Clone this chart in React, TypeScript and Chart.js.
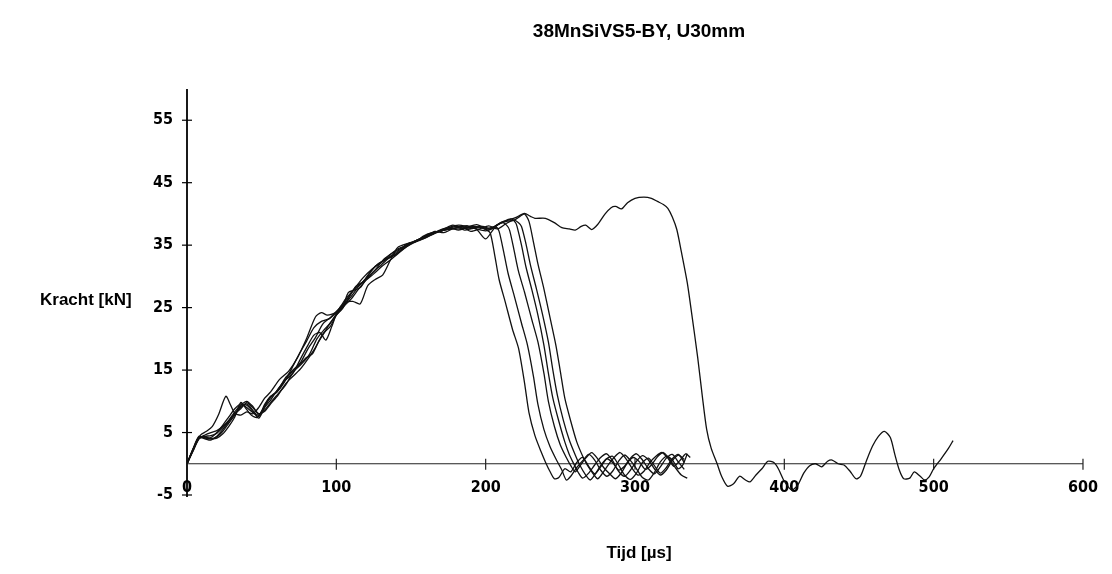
import React, { useEffect, useRef } from "react";
import { Chart, registerables } from "chart.js";

Chart.register(...registerables);

const TITLE = "38MnSiVS5-BY, U30mm";
const Y_TITLE = "Kracht [kN]";
const X_TITLE = "Tijd [µs]";

const X_TICKS = [0, 100, 200, 300, 400, 500, 600];
const Y_TICKS = [-5, 5, 15, 25, 35, 45, 55];

// Curve 1 (earliest fracture)
const C1_T = [0, 4, 9, 13, 17, 21, 26, 29, 32, 36, 40, 44, 48, 52, 56, 62, 68, 74, 80, 86, 90, 94, 100, 106, 112, 118, 124, 130, 136, 142, 148, 154, 160, 166, 172, 178, 184, 190, 196, 200,
  203, 206, 209, 213, 218, 222, 226, 229, 233, 237, 240, 243, 246, 249, 253, 257, 261, 265, 269, 273, 277, 281, 285, 289, 293, 297, 301, 305, 309, 313, 317, 321, 325, 329, 333];
const C1_F = [0, 2.3, 4.6, 5.2, 6.0, 7.8, 10.8, 9.5, 8.1, 7.8, 8.3, 8.0, 9.0, 10.5, 11.5, 13.5, 14.8, 17.0, 20.0, 23.5, 24.2, 23.8, 24.3, 26.3, 28.0, 29.8, 31.2, 32.2, 33.5, 34.5, 35.0, 35.8, 36.4, 37.0, 37.6, 38.2, 37.8, 37.6, 37.9, 37.5,
  37.0, 33.5, 29.5, 26.0, 21.5, 18.5, 13.0, 8.2, 4.5, 2.0, 0.3, -1.2, -2.4, -2.2, -0.8, -1.3, 0.2, 1.0, -0.4, -1.6, -0.5, 0.8, 1.2, -0.2, -1.8, -2.5, -1.5, 0.2, 0.9, -0.3, -1.5, -0.6, 0.8, 1.5, 0.2];

// Curve 2
const C2_T = [0, 4, 8, 12, 16, 20, 24, 28, 32, 36, 39, 43, 47, 51, 55, 60, 65, 70, 76, 82, 87, 92, 96, 100, 105, 110, 115, 120, 126, 132, 138, 144, 150, 156, 162, 168, 174, 180, 186, 192, 198, 203, 207,
  209, 212, 215, 219, 224, 228, 232, 235, 239, 243, 247, 251, 254, 257, 261, 265, 269, 273, 277, 281, 285, 289, 293, 297, 301, 305, 309, 313, 317, 321, 325, 329, 332, 335];
const C2_F = [0, 2.0, 4.0, 4.3, 4.0, 4.1, 4.8, 6.0, 7.5, 9.8, 9.0, 7.8, 7.4, 8.8, 10.5, 11.6, 13.2, 14.6, 15.8, 17.5, 20.0, 21.5, 22.5, 24.0, 25.6, 27.3, 28.6, 29.5, 31.0, 32.8, 33.8, 34.6, 35.4, 36.0, 36.8, 37.2, 37.5, 38.0, 37.4, 37.8, 38.0, 37.6, 37.9,
  37.2, 34.0, 30.5, 27.0, 22.5, 19.0, 14.0, 9.5, 5.5, 2.8, 0.8, -1.0, -2.6, -2.0, -0.6, 0.5, 1.5, 0.6, -1.0, -2.0, -1.2, 0.4, 1.4, 0.5, -0.8, -2.2, -2.6, -1.4, 0.3, 1.2, 0.6, -0.8, -0.2, 1.6];

// Curve 3
const C3_T = [0, 4, 8, 12, 16, 20, 24, 28, 32, 36, 40, 44, 48, 52, 56, 61, 66, 71, 76, 81, 85, 89, 93, 97, 101, 106, 111, 116, 121, 126, 131, 136, 141, 147, 153, 158, 164, 170, 176, 182, 188, 194, 200, 206, 211, 214,
  216, 219, 222, 226, 231, 235, 239, 242, 246, 250, 254, 257, 260, 263, 267, 271, 275, 279, 283, 287, 291, 295, 299, 303, 307, 311, 315, 319, 323, 327, 331, 335];
const C3_F = [0, 2.2, 4.2, 4.0, 3.8, 4.4, 5.5, 6.8, 8.0, 9.0, 9.6, 8.6, 7.3, 9.0, 10.2, 12.0, 13.4, 14.5, 16.8, 19.0, 20.6, 21.0, 19.8, 22.0, 24.5, 25.8, 26.0, 25.6, 28.5, 29.5, 30.2, 32.5, 34.6, 35.2, 35.5, 36.4, 37.0, 37.2, 37.9, 38.2, 37.9, 37.5, 36.0, 37.8, 38.6, 38.2,
  37.4, 34.2, 30.8, 27.5, 23.0, 19.5, 14.5, 10.0, 6.0, 3.0, 1.0, -0.3, -1.3, -0.4, 0.9, 1.8, 0.8, -0.6, -1.6, -2.4, -1.4, 0.2, 1.0, 0.3, -0.9, -0.2, 1.1, 1.8, 0.8, -0.6, -1.8, -2.3];

// Curve 4
const C4_T = [0, 4, 8, 12, 16, 20, 24, 28, 32, 36, 40, 44, 48, 52, 56, 61, 66, 71, 76, 80, 84, 88, 92, 96, 100, 104, 108, 113, 118, 123, 128, 134, 140, 146, 152, 158, 164, 170, 176, 182, 188, 194, 200, 206, 212, 217, 220,
  221, 224, 227, 231, 235, 239, 242, 245, 249, 253, 256, 259, 262, 265, 269, 273, 277, 281, 285, 289, 293, 297, 301, 305, 309, 313, 317, 321, 325, 329, 333];
const C4_F = [0, 2.1, 4.0, 4.6, 5.0, 5.3, 6.0, 7.0, 8.3, 9.4, 10.0, 9.2, 8.0, 8.6, 9.8, 11.2, 12.6, 14.6, 16.0, 17.0, 17.6, 19.5, 21.0, 22.6, 23.8, 24.8, 26.4, 28.4, 29.2, 30.8, 32.0, 32.8, 33.5, 34.8, 35.6, 36.0, 36.7, 37.5, 37.8, 37.4, 37.9, 38.3, 37.7, 38.0, 38.8, 39.2, 38.6,
  38.0, 35.0, 31.5, 27.8, 23.8, 19.0, 14.5, 10.5, 6.8, 3.5, 1.5, 0.0, -1.4, -2.3, -1.5, -0.2, 1.0, 1.6, 0.5, -1.2, -2.0, -1.0, 0.4, 1.3, 0.6, -0.8, -1.8, -1.0, 0.5, 1.4, 0.7];

// Curve 5
const C5_T = [0, 4, 8, 12, 16, 20, 24, 28, 32, 36, 40, 44, 48, 52, 56, 60, 65, 70, 75, 80, 85, 90, 95, 100, 104, 108, 112, 116, 121, 126, 131, 136, 142, 148, 154, 160, 166, 172, 178, 184, 190, 196, 202, 208, 214, 219, 222,
  224, 227, 230, 234, 238, 242, 245, 248, 252, 256, 260, 263, 267, 270, 273, 277, 281, 285, 289, 293, 297, 301, 305, 309, 313, 317, 321, 325, 329, 333];
const C5_F = [0, 2.4, 4.4, 4.1, 4.2, 5.0, 6.2, 7.5, 8.8, 9.6, 9.0, 8.2, 7.6, 9.5, 10.8, 11.4, 13.0, 15.2, 17.5, 19.6, 21.8, 22.8, 23.2, 24.2, 25.0, 27.4, 27.8, 28.2, 30.0, 31.6, 32.4, 33.2, 34.2, 35.3, 35.6, 36.2, 36.9, 37.4, 37.6, 38.0, 37.2, 37.6, 38.1, 37.6, 38.5, 39.0, 38.6,
  38.0, 35.2, 31.8, 28.0, 24.0, 19.5, 15.0, 11.0, 7.0, 3.8, 1.4, -0.2, -1.8, -2.6, -1.8, -0.3, 0.8, 0.2, -1.0, -0.4, 0.9, 1.6, 0.6, -0.8, -1.6, -0.5, 0.9, 1.5, 0.3, -0.9];

// Curve 6
const C6_T = [0, 4, 8, 12, 16, 20, 24, 28, 32, 36, 40, 44, 48, 52, 56, 61, 66, 71, 76, 81, 86, 91, 96, 100, 105, 110, 115, 120, 125, 130, 136, 142, 148, 154, 160, 166, 172, 178, 184, 190, 196, 202, 208, 214, 219, 223, 226,
  229, 232, 235, 239, 243, 247, 250, 253, 257, 261, 265, 268, 272, 275, 278, 282, 286, 290, 294, 298, 302, 306, 310, 314, 318, 322, 326, 330, 334, 337];
const C6_F = [0, 2.2, 4.1, 4.4, 4.5, 4.9, 5.8, 6.8, 8.0, 8.8, 9.8, 9.0, 8.0, 8.4, 9.6, 11.0, 12.8, 14.0, 15.2, 16.8, 18.6, 20.8, 22.0, 23.8, 25.2, 26.4, 28.0, 29.4, 30.4, 31.5, 32.6, 33.8, 34.9, 35.8, 36.4, 37.2, 37.0, 37.6, 37.6, 38.0, 37.9, 37.4, 38.3, 38.8, 39.0, 39.6, 40.0,
  38.8, 35.5, 32.0, 28.0, 23.5, 19.0, 14.8, 10.5, 6.8, 3.5, 1.2, -0.2, -1.6, -2.4, -1.6, -0.2, 1.0, 1.8, 0.8, -0.7, -1.8, -1.2, 0.2, 1.2, 1.8, 0.9, -0.4, 0.5, 1.6, 1.0];

// Curve 7 (latest fracture)
const C7_T = [0, 4, 8, 12, 16, 20, 24, 28, 32, 36, 40, 44, 48, 52, 56, 61, 66, 71, 76, 81, 86, 91, 96, 100, 105, 110, 115, 120, 125, 130, 135, 140, 146, 152, 158, 164, 170, 176, 182, 188, 194, 200, 205, 210, 215, 220, 226,
  230, 233, 240, 246, 251, 256, 260, 264, 267, 271, 275, 280, 284, 287, 291, 295, 300, 306, 311, 315, 319, 322, 325, 328, 331, 335, 338, 342, 345, 348, 351, 355, 358, 362,
  366, 370, 374, 377, 381, 385, 389, 393, 396, 400, 405, 409, 413, 417, 421, 425, 429, 432, 436, 440, 444, 448, 451, 455, 459, 463, 467, 471, 474, 477, 480, 484, 487, 491, 494, 497, 500, 505, 510, 513];
const C7_F = [0, 2.3, 4.3, 4.2, 4.0, 4.3, 5.2, 6.5, 7.8, 9.2, 9.4, 8.4, 7.8, 9.2, 10.6, 11.8, 13.8, 15.0, 16.2, 18.4, 20.2, 22.4, 23.4, 24.4, 25.4, 26.8, 28.4, 29.6, 30.8, 31.8, 32.9, 33.6, 34.6, 35.4, 36.2, 36.8, 37.3, 37.6, 37.9, 38.1, 37.6, 37.3, 37.8, 38.6, 39.0, 39.4, 40.1,
  39.6, 39.3, 39.3, 38.6, 37.8, 37.6, 37.4, 38.0, 38.2, 37.5, 38.3, 40.0, 41.0, 41.2, 40.8, 41.8, 42.5, 42.7, 42.5, 42.0, 41.5, 40.9, 39.5, 37.5, 34.0, 29.0, 24.0, 17.0, 11.0, 5.5, 2.5, 0.0, -2.0, -3.6,
  -3.2, -2.0, -2.6, -2.9, -1.8, -0.8, 0.4, 0.2, -0.8, -2.8, -4.2, -3.4, -1.5, -0.3, 0.0, -0.5, 0.4, 0.6, 0.0, -0.2, -1.2, -2.4, -2.0, 0.5, 2.8, 4.4, 5.2, 4.2, 1.5, -1.0, -2.4, -2.3, -1.3, -2.0, -2.6, -2.1, -0.8, 0.8, 2.5, 3.7];

const CURVES = [
  [C1_T, C1_F],
  [C2_T, C2_F],
  [C3_T, C3_F],
  [C4_T, C4_F],
  [C5_T, C5_F],
  [C6_T, C6_F],
  [C7_T, C7_F],
];

const TICK_FONT = { family: '"Liberation Sans Narrow", "DejaVu Sans Condensed", "Liberation Sans", sans-serif', size: 16, weight: "bold" as const };

const axesPlugin = {
  id: "customAxes",
  beforeDatasetsDraw(chart: any) {
    const { ctx, chartArea, scales } = chart;
    const xs = scales.x;
    const ys = scales.y;
    const x0 = xs.getPixelForValue(0);
    const y0 = ys.getPixelForValue(0);
    ctx.save();
    ctx.strokeStyle = "#000";
    // y axis
    ctx.lineWidth = 1.8;
    ctx.beginPath();
    ctx.moveTo(x0, chartArea.top);
    ctx.lineTo(x0, chartArea.bottom + 2);
    ctx.stroke();
    ctx.lineWidth = 1.2;
    Y_TICKS.forEach((v) => {
      const py = ys.getPixelForValue(v);
      ctx.beginPath();
      ctx.moveTo(x0 - 5, py);
      ctx.lineTo(x0 + 5, py);
      ctx.stroke();
    });
    // x axis at y = 0
    ctx.lineWidth = 1.2;
    ctx.strokeStyle = "#222";
    ctx.beginPath();
    ctx.moveTo(x0, y0);
    ctx.lineTo(xs.getPixelForValue(600), y0);
    ctx.stroke();
    X_TICKS.forEach((v) => {
      if (v === 0) return;
      const px = xs.getPixelForValue(v);
      ctx.beginPath();
      ctx.moveTo(px, y0 - 5);
      ctx.lineTo(px, y0 + 6);
      ctx.stroke();
    });
    ctx.restore();
  },
  afterDraw(chart: any) {
    const { ctx, chartArea } = chart;
    ctx.save();
    ctx.fillStyle = "#000";
    ctx.textBaseline = "middle";
    ctx.textAlign = "center";
    ctx.font = 'bold 19px "Liberation Sans", Arial, sans-serif';
    ctx.fillText(TITLE, (chartArea.left + chartArea.right) / 2 + 4, 32);
    ctx.font = 'bold 17px "Liberation Sans", Arial, sans-serif';
    ctx.textAlign = "left";
    ctx.fillText(Y_TITLE, 40, 300);
    ctx.textAlign = "center";
    ctx.fillText(X_TITLE, (chartArea.left + chartArea.right) / 2 + 4, 553);
    ctx.restore();
  },
};

export default function App() {
  const canvasRef = useRef<HTMLCanvasElement | null>(null);

  useEffect(() => {
    if (!canvasRef.current) return;
    const datasets = CURVES.map(([t, f]) => ({
      data: t.map((tv, i) => ({ x: tv, y: f[i] })),
      borderColor: "#111",
      borderWidth: 1.3,
      pointRadius: 0,
      tension: 0.25,
      fill: false,
    }));
    const chart = new Chart(canvasRef.current, {
      type: "line",
      data: { datasets },
      plugins: [axesPlugin],
      options: {
        animation: false,
        responsive: true,
        maintainAspectRatio: false,
        layout: { padding: { top: 89, right: 25, bottom: 79, left: 0 } },
        plugins: {
          legend: { display: false },
          tooltip: { enabled: false },
          title: { display: false },
        },
        scales: {
          x: {
            type: "linear",
            min: 0,
            max: 600,
            position: { y: 0 } as any,
            grid: { display: false, drawTicks: false },
            border: { display: false },
            afterBuildTicks: (scale: any) => {
              scale.ticks = X_TICKS.map((v) => ({ value: v }));
            },
            ticks: {
              autoSkip: false,
              maxRotation: 0,
              color: "#000",
              padding: 14,
              font: TICK_FONT,
            },
          },
          y: {
            type: "linear",
            min: -5,
            max: 60,
            position: "left",
            grid: { display: false, drawTicks: false },
            border: { display: false },
            afterBuildTicks: (scale: any) => {
              scale.ticks = Y_TICKS.map((v) => ({ value: v }));
            },
            afterFit: (scale: any) => {
              scale.width = 187;
            },
            ticks: {
              autoSkip: false,
              color: "#000",
              padding: 14,
              font: TICK_FONT,
            },
          },
        },
      },
    });
    return () => chart.destroy();
  }, []);

  return (
    <div style={{ position: "fixed", left: 0, top: 0, width: 1112, height: 574, background: "#fff" }}>
      <canvas ref={canvasRef} />
    </div>
  );
}
